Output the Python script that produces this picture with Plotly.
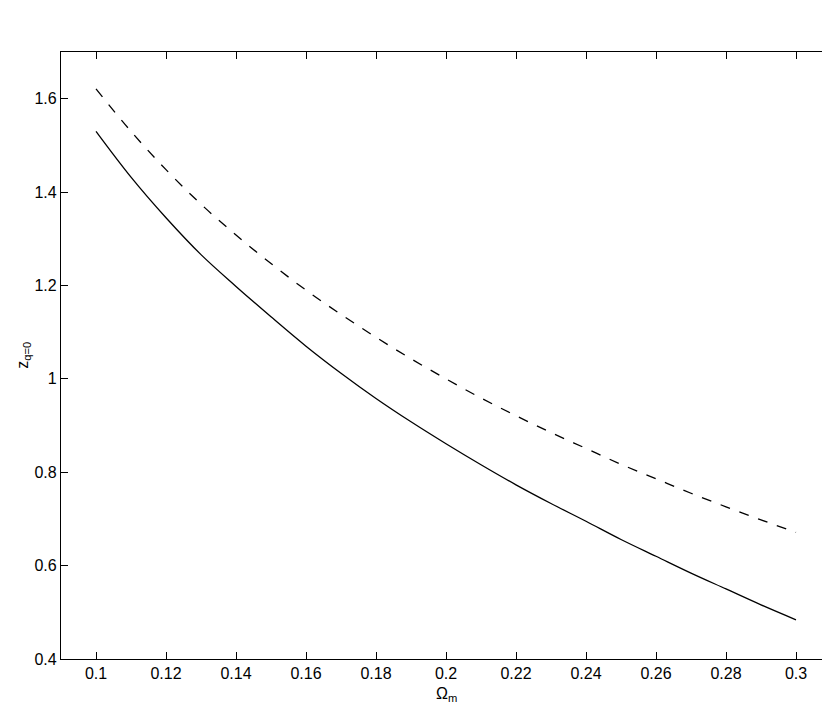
import plotly.graph_objects as go

omega_m = [0.10, 0.11, 0.12, 0.13, 0.14, 0.15, 0.16, 0.17, 0.18, 0.19, 0.20,
           0.21, 0.22, 0.23, 0.24, 0.25, 0.26, 0.27, 0.28, 0.29, 0.30]
z_solid = [1.530, 1.432, 1.345, 1.266, 1.198, 1.133, 1.070, 1.012, 0.958, 0.908, 0.861,
           0.816, 0.773, 0.733, 0.695, 0.656, 0.620, 0.584, 0.550, 0.516, 0.484]
z_dashed = [1.621, 1.530, 1.448, 1.374, 1.308, 1.247, 1.190, 1.138, 1.089, 1.043, 1.000,
            0.959, 0.921, 0.885, 0.851, 0.817, 0.786, 0.755, 0.726, 0.698, 0.671]

x_ticks = [0.1, 0.12, 0.14, 0.16, 0.18, 0.2, 0.22, 0.24, 0.26, 0.28, 0.3]
x_tick_labels = ["0.1", "0.12", "0.14", "0.16", "0.18", "0.2", "0.22", "0.24", "0.26", "0.28", "0.3"]
y_ticks = [0.4, 0.6, 0.8, 1.0, 1.2, 1.4, 1.6]
y_tick_labels = ["0.4", "0.6", "0.8", "1", "1.2", "1.4", "1.6"]

FONT = "Liberation Sans, Arial, sans-serif"

fig = go.Figure()
fig.add_trace(go.Scatter(x=omega_m, y=z_solid, mode="lines", line=dict(color="black", width=1.3),
                         line_shape="spline", showlegend=False))
fig.add_trace(go.Scatter(x=omega_m, y=z_dashed, mode="lines",
                         line=dict(color="black", width=1.3, dash="10px,10px"),
                         line_shape="spline", showlegend=False))

axis_common = dict(showline=True, linecolor="black", linewidth=1.3, mirror="ticks",
                   ticks="inside", ticklen=7, tickcolor="black", tickwidth=1,
                   showgrid=False, zeroline=False, automargin=False,
                   tickfont=dict(family=FONT, size=16, color="black"))

fig.update_layout(
    width=830, height=704,
    margin=dict(l=53, r=7, t=44, b=53),
    paper_bgcolor="white", plot_bgcolor="white",
    font=dict(family=FONT, size=16, color="black"),
    xaxis=dict(range=[0.09, 0.31], tickvals=x_ticks, ticktext=x_tick_labels, **axis_common),
    yaxis=dict(range=[0.4, 1.7], tickvals=y_ticks, ticktext=y_tick_labels, **axis_common),
    annotations=[
        dict(text="Ω<sub>m</sub>", xref="paper", yref="paper", x=0.5, y=-0.058,
             xanchor="center", yanchor="middle", showarrow=False,
             font=dict(family=FONT, size=16, color="black")),
        dict(text="z<sub>q=0</sub>", xref="paper", yref="paper", x=-0.049, y=0.5,
             xanchor="center", yanchor="middle", textangle=-90, showarrow=False,
             font=dict(family=FONT, size=16, color="black")),
    ],
)

fig.write_html("out.html")
